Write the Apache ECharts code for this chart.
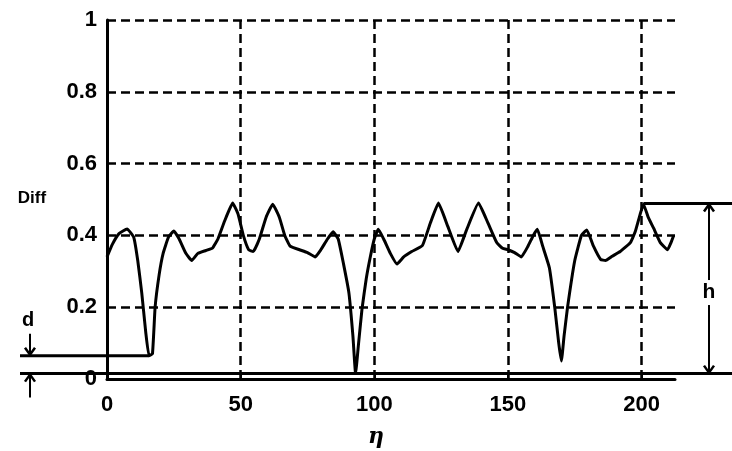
<!DOCTYPE html>
<html>
<head>
<meta charset="utf-8">
<script src="https://cdn.jsdelivr.net/npm/echarts@6/dist/echarts.min.js"></script>
<style>
  html, body { margin: 0; padding: 0; background: #fff; }
  #main { width: 732px; height: 451px; }
</style>
</head>
<body>
<div id="main"></div>
<script>
// eta values (x) and Diff values (y)
const eta = [0, 2, 4.5, 7.5, 10, 11.5, 13, 14.5, 15.7, 17, 18, 19.5, 21, 23, 25, 27, 29.5, 31.7, 34, 37,
  39.5, 41.5, 44, 47, 49, 51, 53, 54.7, 57, 59.5, 62, 64.5, 66.5, 68.5, 72, 75, 77.9, 80, 82.5, 84.6,
  86.5, 88.5, 90.5, 92, 93, 94, 95.4, 97, 98.5, 100, 101.5, 103.5, 106, 108.5, 111, 114, 118, 121, 124, 127.5,
  131.3, 134.6, 139, 142.5, 145.8, 148, 150, 152.5, 155, 157.5, 159.5, 161, 163, 165.5, 167.5, 169, 170, 171, 172.3, 175,
  177.5, 179.5, 182, 184.7, 186.5, 189, 192, 195.8, 197.6, 199.5, 200.7, 202.5, 204.5, 207, 209.7, 211, 212];
const diff = [0.34, 0.375, 0.405, 0.418, 0.395, 0.33, 0.24, 0.13, 0.065, 0.07, 0.2, 0.29, 0.35, 0.395, 0.412, 0.39, 0.35, 0.33, 0.35, 0.358,
  0.365, 0.39, 0.44, 0.49, 0.46, 0.4, 0.36, 0.355, 0.39, 0.45, 0.487, 0.45, 0.4, 0.37, 0.36, 0.352, 0.34, 0.36, 0.39, 0.41,
  0.39, 0.32, 0.24, 0.12, 0.015, 0.09, 0.195, 0.28, 0.34, 0.39, 0.417, 0.39, 0.35, 0.32, 0.34, 0.355, 0.372, 0.435, 0.49, 0.425,
  0.355, 0.417, 0.49, 0.435, 0.38, 0.364, 0.36, 0.352, 0.34, 0.37, 0.4, 0.417, 0.37, 0.31, 0.2, 0.1, 0.05, 0.12, 0.2, 0.33,
  0.4, 0.415, 0.37, 0.333, 0.33, 0.342, 0.355, 0.38, 0.41, 0.46, 0.487, 0.45, 0.42, 0.38, 0.36, 0.38, 0.40];
const yTicks = ['0', '0.2', '0.4', '0.6', '0.8', '1'];
// annotation levels
const dLevel = 0.065, dEta = 15.7;
const hLevel = 0.489, hEta = 200.7;
const zeroLevel = 0.015;

let myChart = echarts.init(document.getElementById('main'));
let dashed = {color: '#000', width: 2.5, type: [9, 5]};
let font = 'Liberation Sans, Arial, sans-serif';
let option = {
  backgroundColor: '#fff',
  animation: false,
  grid: {left: 107, right: 57, top: 20, bottom: 72},
  xAxis: {
    type: 'value',
    min: 0, max: 212.5, interval: 50,
    axisLine: {lineStyle: {color: '#000', width: 3}},
    axisTick: {show: true, inside: true, length: 4, lineStyle: {color: '#000', width: 2}},
    axisLabel: {color: '#000', fontSize: 22, fontWeight: 'bold', fontFamily: font, margin: 15, showMaxLabel: false},
    splitLine: {show: true, showMaxLine: false, lineStyle: dashed}
  },
  yAxis: {
    type: 'value',
    min: 0, max: 1, interval: 0.2,
    axisLine: {show: true, lineStyle: {color: '#000', width: 3}},
    axisTick: {show: false},
    axisLabel: {color: '#000', fontSize: 22, fontWeight: 'bold', fontFamily: font, margin: 10,
      formatter: function (v) { return yTicks[Math.round(v * 5)]; }},
    splitLine: {show: true, lineStyle: dashed}
  },
  series: [{
    type: 'line',
    data: eta.map((x, i) => [x, diff[i]]),
    symbol: 'none',
    smooth: 0.12,
    lineStyle: {color: '#000', width: 3}
  }]
};
myChart.setOption(option);

// annotation lines / arrows, placed from data levels
function px(x, y) { return myChart.convertToPixel({gridIndex: 0}, [x, y]); }
let yD = px(0, dLevel)[1], xD = px(dEta, dLevel)[0];
let yH = px(0, hLevel)[1], xH = px(hEta, hLevel)[0];
let y0 = px(0, zeroLevel)[1];
let stroke = {stroke: '#000', lineWidth: 2.5, fill: null};
function line(x1, y1, x2, y2, w) {
  return {type: 'line', shape: {x1, y1, x2, y2}, style: {stroke: '#000', lineWidth: w || 2.5}, z: 100};
}
function head(x, y, dir) {
  return {type: 'polyline', shape: {points: [[x - 5, y - 7 * dir], [x, y], [x + 5, y - 7 * dir]]}, style: stroke, z: 100};
}
let aX = 709;
myChart.setOption({
  graphic: [
    line(20, yD, xD, yD, 3),
    line(20, y0, 732, y0, 3),
    line(xH, yH, 732, yH, 3),
    // d arrows
    line(30, yD - 22, 30, yD - 1, 2),
    head(30, yD - 1, 1),
    line(30, y0 + 24, 30, y0 + 1, 2),
    head(30, y0 + 1, -1),
    // h arrow
    line(aX, yH + 1, aX, y0 - 1, 2),
    head(aX, yH + 1, -1),
    head(aX, y0 - 1, 1),
    {type: 'text', x: aX, y: (yH + y0) / 2 + 4, z: 101,
      style: {text: 'h', fill: '#000', font: 'bold 21px ' + font, align: 'center', verticalAlign: 'middle',
        backgroundColor: '#fff', padding: [2, 0]}},
    {type: 'text', x: 28, y: 320, z: 101,
      style: {text: 'd', fill: '#000', font: 'bold 20px ' + font, align: 'center', verticalAlign: 'middle'}},
    {type: 'text', x: 32, y: 198, z: 101,
      style: {text: 'Diff', fill: '#000', font: 'bold 17px ' + font, align: 'center', verticalAlign: 'middle'}},
    {type: 'text', x: 376, y: 437, z: 101,
      style: {text: 'η', fill: '#000', font: 'italic bold 22px DejaVu Serif, serif', align: 'center', verticalAlign: 'middle'}}
  ]
});
</script>
</body>
</html>
